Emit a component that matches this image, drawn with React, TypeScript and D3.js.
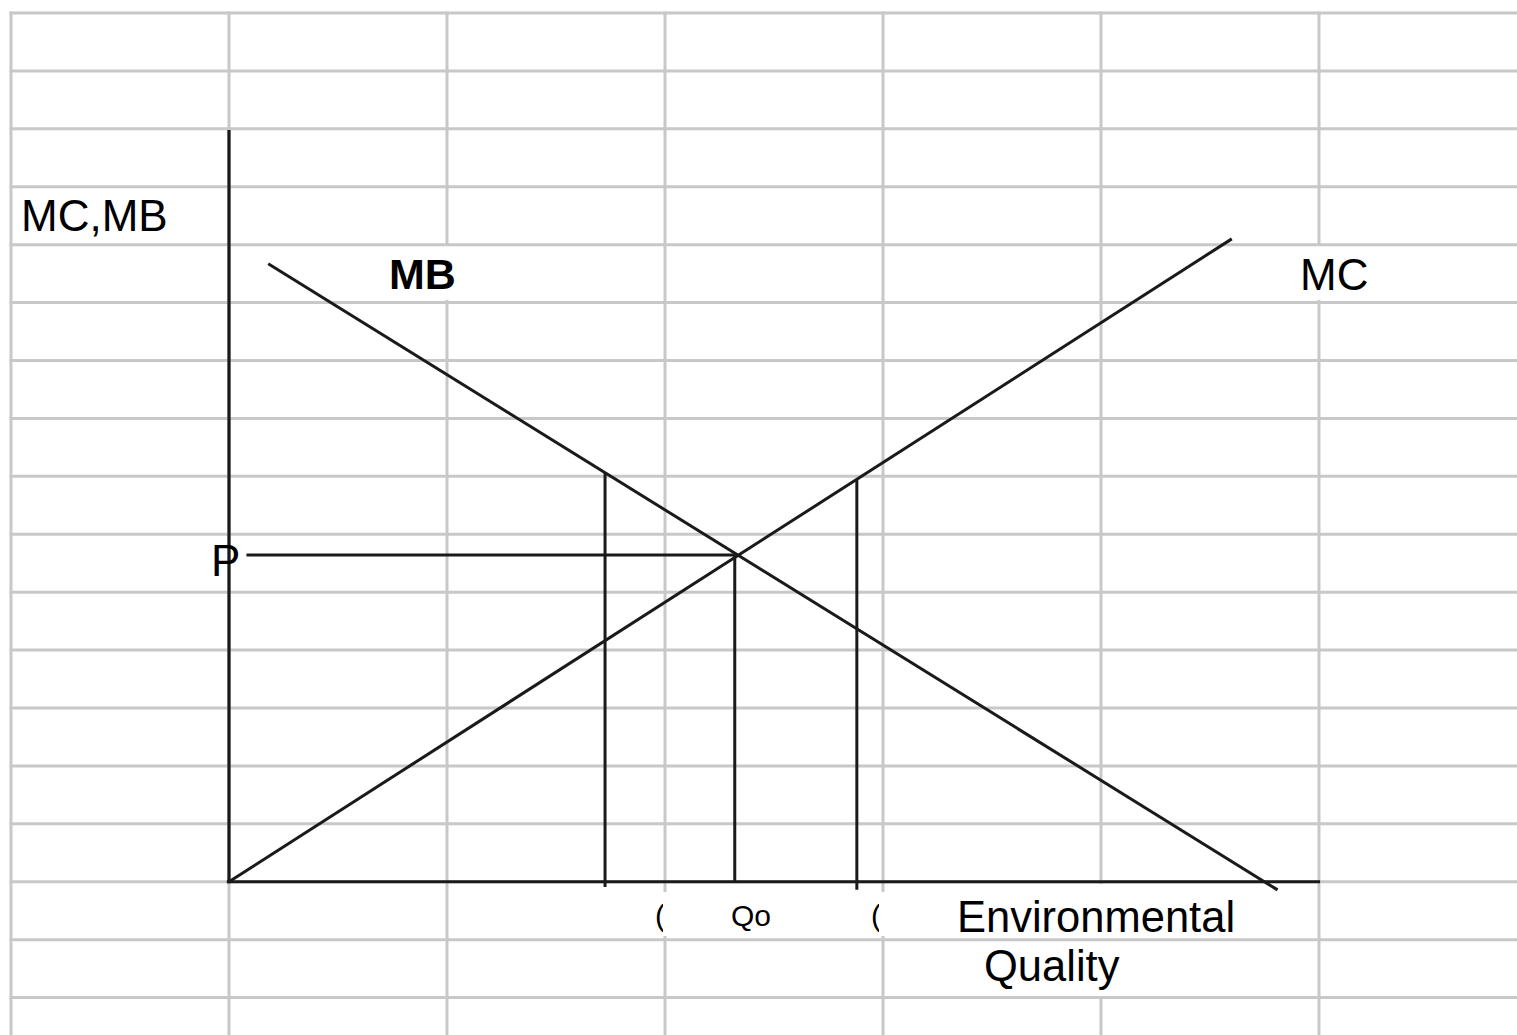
import React, { useEffect, useRef } from 'react';
import * as d3 from 'd3';

// grid is in "cell" units: one column per unit of quantity, one row per unit of value
const gridColumns = [-1, 0, 1, 2, 3, 4, 5];
const gridRows = [-2, -1, 0, 1, 2, 3, 4, 5, 6, 7, 8, 9, 10, 11, 12, 13, 14, 15];

const mcCurve = [
  { q: 0, v: 0 },
  { q: 4.6, v: 11.1 },
];
const mbCurve = [
  { q: 0.18, v: 10.67 },
  { q: 4.81, v: -0.14 },
];

const priceLevel = 5.64;
const qOptimal = 2.32;
const qLow = 1.725;
const qHigh = 2.88;

const W = 1517;
const H = 1035;

function valueAt(curve, q) {
  const [a, b] = curve;
  return a.v + ((b.v - a.v) * (q - a.q)) / (b.q - a.q);
}

export default function App() {
  const svgRef = useRef<SVGSVGElement>(null);

  useEffect(() => {
    const svg = d3.select(svgRef.current);
    svg.selectAll('*').remove();

    const x = d3.scaleLinear().domain([-1, 5]).range([11, 1319]);
    const y = d3.scaleLinear().domain([-2, 15]).range([997.6, 13]);

    const gridColor = '#c8c8c8';
    const ink = '#1a1a1a';
    const font = 'Liberation Sans, Arial, sans-serif';

    const txt = (parent, tx, ty, s, size, weight = 'normal') =>
      parent
        .append('text')
        .attr('x', tx)
        .attr('y', ty)
        .attr('font-family', font)
        .attr('font-size', size)
        .attr('font-weight', weight)
        .attr('fill', '#000')
        .text(s);

    // vertical grid lines
    svg
      .append('g')
      .selectAll('line')
      .data(gridColumns)
      .join('line')
      .attr('x1', (d) => x(d))
      .attr('x2', (d) => x(d))
      .attr('y1', y(15) - 1.5)
      .attr('y2', H)
      .attr('stroke', gridColor)
      .attr('stroke-width', 3);

    // leftovers of the other two quantity labels, clipped by the boxes below
    const under = svg.append('g');
    txt(under, 655, 926, '(', 30);
    txt(under, 871, 926, '(', 30);

    // white label boxes that hide the vertical grid
    const boxes = [
      [380, 246, 88, 54],
      [1290, 246, 90, 54],
      [663, 892, 134, 44],
      [879, 892, 70, 44],
      [948, 884, 290, 112],
    ];
    svg
      .append('g')
      .selectAll('rect')
      .data(boxes)
      .join('rect')
      .attr('x', (d) => d[0])
      .attr('y', (d) => d[1])
      .attr('width', (d) => d[2])
      .attr('height', (d) => d[3])
      .attr('fill', '#fff');

    // horizontal grid lines
    svg
      .append('g')
      .selectAll('line')
      .data(gridRows)
      .join('line')
      .attr('x1', x(-1) - 1.5)
      .attr('x2', W)
      .attr('y1', (d) => y(d))
      .attr('y2', (d) => y(d))
      .attr('stroke', gridColor)
      .attr('stroke-width', 3);

    const g = svg.append('g');

    // axes
    g.append('line')
      .attr('x1', x(0))
      .attr('x2', x(0))
      .attr('y1', y(12.98))
      .attr('y2', y(0) + 1.5)
      .attr('stroke', ink)
      .attr('stroke-width', 3.2);
    g.append('line')
      .attr('x1', x(-0.01))
      .attr('x2', x(5.005))
      .attr('y1', y(0))
      .attr('y2', y(0))
      .attr('stroke', ink)
      .attr('stroke-width', 3.2);

    const line = d3
      .line<{ q: number; v: number }>()
      .x((d) => x(d.q))
      .y((d) => y(d.v));

    g.append('path')
      .attr('d', line(mcCurve))
      .attr('fill', 'none')
      .attr('stroke', ink)
      .attr('stroke-width', 3);
    g.append('path')
      .attr('d', line(mbCurve))
      .attr('fill', 'none')
      .attr('stroke', ink)
      .attr('stroke-width', 3);

    // price line
    g.append('line')
      .attr('x1', x(0.08))
      .attr('x2', x(qOptimal))
      .attr('y1', y(priceLevel))
      .attr('y2', y(priceLevel))
      .attr('stroke', ink)
      .attr('stroke-width', 3);

    // drop lines
    const drops = [
      { q: qLow, top: valueAt(mbCurve, qLow), bottom: -0.09 },
      { q: qOptimal, top: priceLevel, bottom: 0 },
      { q: qHigh, top: valueAt(mcCurve, qHigh), bottom: -0.14 },
    ];
    g.selectAll('.drop')
      .data(drops)
      .join('line')
      .attr('class', 'drop')
      .attr('x1', (d) => x(d.q))
      .attr('x2', (d) => x(d.q))
      .attr('y1', (d) => y(d.top))
      .attr('y2', (d) => y(d.bottom))
      .attr('stroke', ink)
      .attr('stroke-width', 3);

    // labels
    txt(g, 21, 231, 'MC,MB', 44);
    txt(g, 389, 289, 'MB', 43, 'bold');
    txt(g, 1300, 290, 'MC', 44);
    txt(g, 211, 576, 'P', 44);
    txt(g, 731, 926, 'Qo', 30);
    txt(g, 957, 932, 'Environmental', 43.5);
    txt(g, 984, 981, 'Quality', 43.5);
  }, []);

  return (
    <div style={{ position: 'fixed', left: 0, top: 0, width: W, height: H, background: '#fff' }}>
      <svg ref={svgRef} width={W} height={H} style={{ display: 'block' }} />
    </div>
  );
}
